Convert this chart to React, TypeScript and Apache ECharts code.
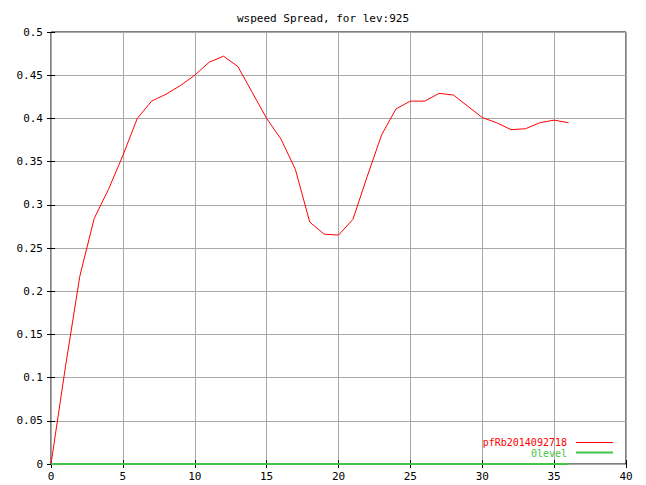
import React, { useEffect, useRef } from "react";
import * as echarts from "echarts";

const steps = [
  0, 1, 2, 3, 4, 5, 6, 7, 8, 9, 10, 11, 12, 13, 14, 15, 16, 17, 18, 19, 20, 21,
  22, 23, 24, 25, 26, 27, 28, 29, 30, 31, 32, 33, 34, 35, 36,
];
const spreadValues = [
  0, 0.112, 0.217, 0.284, 0.318, 0.357, 0.4, 0.42, 0.428, 0.438, 0.45, 0.465,
  0.472, 0.46, 0.43, 0.4, 0.376, 0.341, 0.28, 0.266, 0.265, 0.283, 0.333, 0.381,
  0.411, 0.42, 0.42, 0.429, 0.427, 0.414, 0.401, 0.395, 0.387, 0.388, 0.395,
  0.398, 0.395,
];
const zeroLevel = steps.map(() => 0);
const seriesNames = ["pfRb2014092718", "0level"];
const seriesColors = ["#ff0000", "#44c444"];
const chartTitle = "wspeed Spread, for lev:925";

const FONT = "DejaVu Sans Mono";

export default function App() {
  const ref = useRef<HTMLDivElement>(null);

  useEffect(() => {
    if (!ref.current) return;
    const chart = echarts.init(ref.current, undefined, { renderer: "svg" });
    const gridLine = { show: true, lineStyle: { color: "#a8a8a8", width: 1 } };
    const tick = { show: true, inside: true, length: 4, lineStyle: { color: "#000" } };
    chart.setOption({
      animation: false,
      backgroundColor: "#fff",
      title: {
        text: chartTitle,
        left: "center",
        top: 8,
        textStyle: { fontFamily: FONT, fontSize: 11, fontWeight: "normal", color: "#000" },
      },
      grid: {
        left: 51,
        right: 20,
        top: 32,
        bottom: 21,
        show: true,
        borderColor: "#000",
        borderWidth: 1,
      },
      xAxis: [
        {
          type: "value",
          min: 0,
          max: 40,
          interval: 5,
          axisLine: { show: false },
          axisTick: tick,
          splitLine: gridLine,
          axisLabel: { fontFamily: FONT, fontSize: 11, color: "#000", margin: 7 },
        },
        {
          type: "value",
          position: "top",
          min: 0,
          max: 40,
          interval: 5,
          axisLine: { show: false },
          axisTick: tick,
          splitLine: { show: false },
          axisLabel: { show: false },
        },
      ],
      yAxis: [
        {
          type: "value",
          min: 0,
          max: 0.5,
          interval: 0.05,
          axisLine: { show: false },
          axisTick: tick,
          splitLine: gridLine,
          axisLabel: {
            fontFamily: FONT,
            fontSize: 11,
            color: "#000",
            margin: 8,
            formatter: (v: number) => String(Math.round(v * 100) / 100),
          },
        },
        {
          type: "value",
          position: "right",
          min: 0,
          max: 0.5,
          interval: 0.05,
          axisLine: { show: false },
          axisTick: tick,
          splitLine: { show: false },
          axisLabel: { show: false },
        },
      ],
      series: [
        {
          name: seriesNames[0],
          type: "line",
          data: steps.map((s, i) => [s, spreadValues[i]]),
          showSymbol: false,
          lineStyle: { color: seriesColors[0], width: 1 },
          z: 3,
        },
        {
          name: seriesNames[1],
          type: "line",
          data: steps.map((s, i) => [s, zeroLevel[i]]),
          showSymbol: false,
          lineStyle: { color: seriesColors[1], width: 2 },
          z: 4,
        },
      ],
      graphic: [
        {
          type: "text",
          x: 567,
          y: 442.5,
          style: {
            text: seriesNames[0],
            fill: seriesColors[0],
            font: `10px "${FONT}"`,
            align: "right",
            verticalAlign: "middle",
          },
        },
        {
          type: "line",
          shape: { x1: 576, y1: 442.5, x2: 613, y2: 442.5 },
          style: { stroke: seriesColors[0], lineWidth: 1 },
        },
        {
          type: "text",
          x: 567,
          y: 453.5,
          style: {
            text: seriesNames[1],
            fill: seriesColors[1],
            font: `10px "${FONT}"`,
            align: "right",
            verticalAlign: "middle",
          },
        },
        {
          type: "line",
          shape: { x1: 576, y1: 452.5, x2: 613, y2: 452.5 },
          style: { stroke: seriesColors[1], lineWidth: 2 },
        },
      ],
    });
    return () => chart.dispose();
  }, []);

  return (
    <div
      ref={ref}
      style={{ position: "fixed", left: 0, top: 0, width: 646, height: 485, background: "#fff" }}
    />
  );
}
